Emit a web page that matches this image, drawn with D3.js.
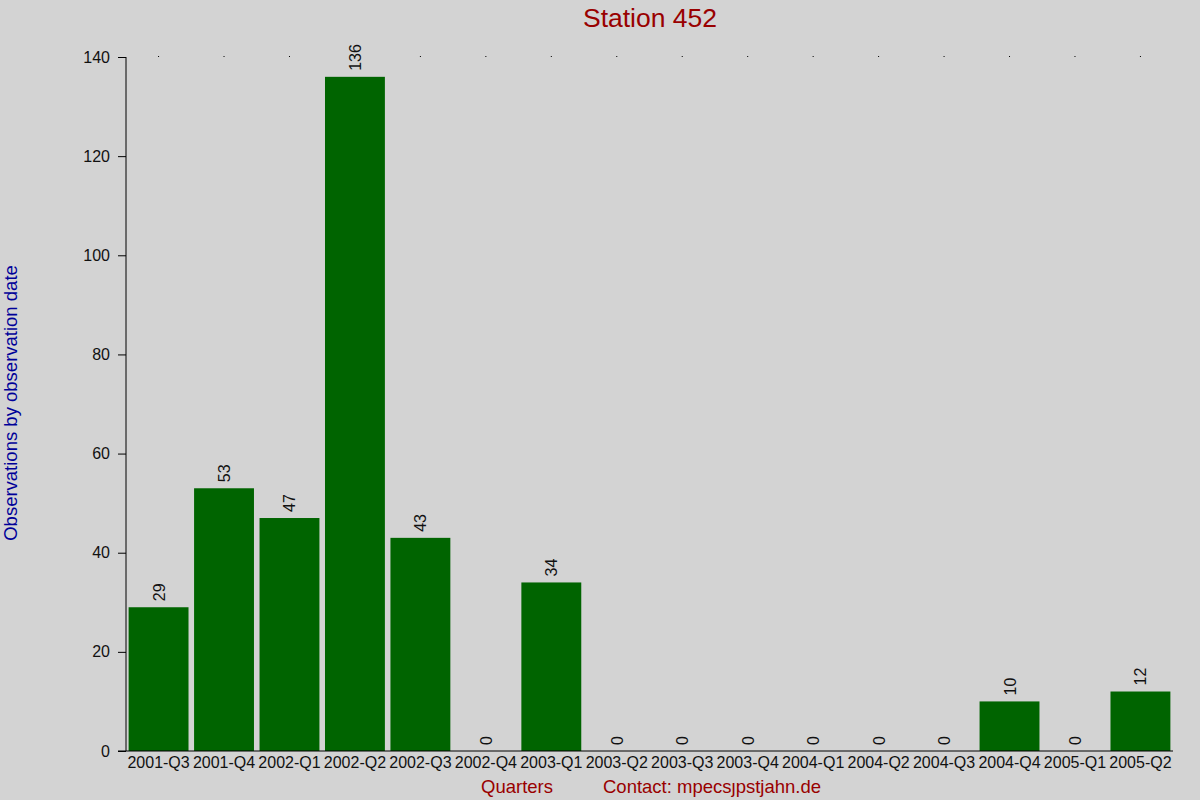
<!DOCTYPE html>
<html><head><meta charset="utf-8">
<script src="https://cdn.jsdelivr.net/npm/d3@7"></script>
<style>body{margin:0;background:#d3d3d3;}svg{display:block;font-family:"Liberation Sans",Arial,sans-serif;}</style>
</head><body>
<script>
const categories = ["2001-Q3","2001-Q4","2002-Q1","2002-Q2","2002-Q3","2002-Q4","2003-Q1","2003-Q2","2003-Q3","2003-Q4","2004-Q1","2004-Q2","2004-Q3","2004-Q4","2005-Q1","2005-Q2"];
const values = [29,53,47,136,43,0,34,0,0,0,0,0,0,10,0,12];
const yTicks = [0,20,40,60,80,100,120,140];
const titleText = "Station 452";
const yTitle = "Observations by observation date";
const xTitle = "Quarters";
const contactText = "Contact: mpecs\u0237pstjahn.de";

const W=1200,H=800;
const svg=d3.select("body").append("svg").attr("width",W).attr("height",H);
svg.append("rect").attr("width",W).attr("height",H).attr("fill","#d3d3d3");

const x=d3.scaleBand().domain(categories).range([126,1173]).paddingInner(0.085).paddingOuter(0.04);
const y=d3.scaleLinear().domain([0,140]).range([751,57]);

// bars
svg.append("g").selectAll("rect").data(values).join("rect")
  .attr("x",(d,i)=>x(categories[i])).attr("width",x.bandwidth())
  .attr("y",d=>y(d)).attr("height",d=>y(0)-y(d)).attr("fill","#006400");

// value labels
svg.append("g").selectAll("text").data(values).join("text")
  .attr("transform",(d,i)=>`translate(${x(categories[i])+x.bandwidth()/2+6},${y(d)-6}) rotate(-90)`)
  .attr("font-size",16).attr("fill","#111").text(d=>d);

// y axis
const ya=svg.append("g").attr("transform","translate(126,0)").call(d3.axisLeft(y).tickValues(yTicks).tickSize(8).tickPadding(8));
ya.select(".domain").attr("d","M0,57V751");
ya.selectAll("text").attr("font-size",16).attr("fill","#111").attr("font-family","Liberation Sans, Arial, sans-serif");
ya.selectAll("line,path").attr("stroke","#000");

// x axis
const xa=svg.append("g").attr("transform","translate(0,751)").call(d3.axisBottom(x).tickSize(0).tickPadding(6));
xa.select(".domain").attr("d","M118,0H1173");
xa.selectAll("text").attr("font-size",16).attr("fill","#111").attr("font-family","Liberation Sans, Arial, sans-serif");
xa.selectAll("path").attr("stroke","#000");

// top dots
svg.append("g").selectAll("rect").data(categories).join("rect")
  .attr("x",d=>x(d)+x.bandwidth()/2-0.5).attr("y",56).attr("width",1).attr("height",1).attr("fill","#000");

// titles
svg.append("text").attr("x",650).attr("y",27).attr("text-anchor","middle").attr("font-size",26.5).attr("fill","#990000").text(titleText);
svg.append("text").attr("transform","translate(17,403) rotate(-90)").attr("text-anchor","middle").attr("font-size",18.5).attr("fill","#000099").text(yTitle);
svg.append("text").attr("x",517).attr("y",793).attr("text-anchor","middle").attr("font-size",18.5).attr("fill","#990000").text(xTitle);
svg.append("text").attr("x",603).attr("y",793).attr("font-size",18.5).attr("fill","#990000").text(contactText);
</script>
</body></html>
